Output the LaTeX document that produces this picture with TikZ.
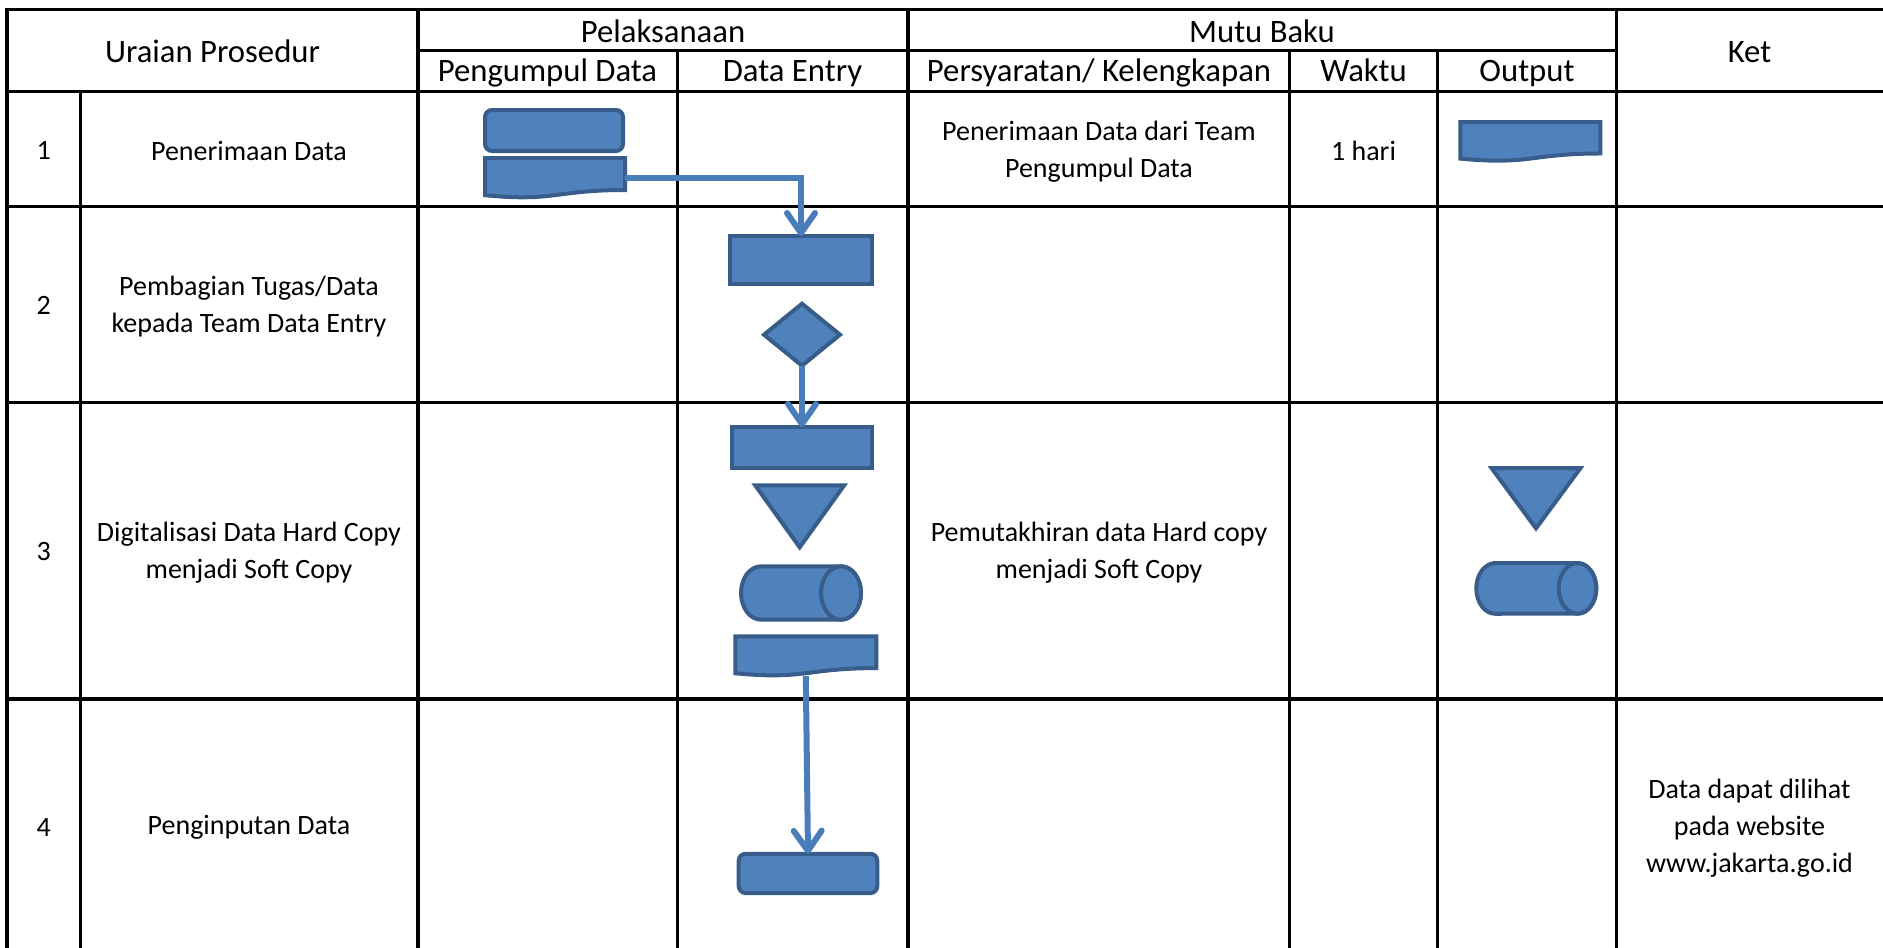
\documentclass[tikz,border=0pt]{standalone}
\usepackage{fontspec}
\setmainfont{Carlito}
\usetikzlibrary{arrows.meta,calc,shapes.geometric}
\definecolor{shapefill}{HTML}{4F81BD}
\definecolor{shapeline}{HTML}{385D8A}
\definecolor{flowline}{HTML}{4A7EBB}
% flowchart symbols drawn over an empty node
\newcommand\docshape[1]{\draw[box] (#1.north west) -- (#1.north east) -- ($(#1.north east)!0.8!(#1.south east)$) .. controls ($(#1.north)!0.8!(#1.south)$) and ($(#1.north)!1.1!(#1.south)$) .. ($(#1.north west)!0.93!(#1.south west)$) -- cycle;}
\newcommand\mergeshape[1]{\draw[box] (#1.north west) -- (#1.north east) -- (#1.south) -- cycle;}
\newcommand\diskshape[3]{\draw[box] ($(#1.north west)+(#2,0)$) -- ($(#1.north east)-(#2,0)$) arc[start angle=-90,end angle=90,x radius=#2,y radius=#3] -- ($(#1.south west)+(#2,0)$) arc[start angle=90,end angle=270,x radius=#2,y radius=#3] -- cycle;
\draw[box] ($(#1.east)-(#2,0)$) ellipse[x radius=#2,y radius=#3];}
\begin{document}
\begin{tikzpicture}[x=1pt,y=-1pt,
  grid/.style={line width=3.3pt},
  box/.style={draw=shapeline,fill=shapefill,line width=4pt,inner sep=0pt,outer sep=0pt},
  frame/.style={inner sep=0pt,outer sep=0pt},
  flow/.style={draw=flowline,line width=6pt,-{Straight Barb[round,length=20pt,width=28pt]}},
  txt/.style={font=\fontsize{28}{37}\selectfont,align=center},
  head/.style={font=\fontsize{32.7}{40}\selectfont,anchor=base}]
\useasboundingbox (0,0) rectangle (1883,948);
% table
\draw[grid] (1883,9.6) -| (7,948);
\foreach \y in {91.3,206.6,402.3,699} \draw[grid] (7,\y) -- (1883,\y);
\draw[grid] (418,50.4) -- (1616.4,50.4);
\foreach \x in {418,907.9,1616.4} \draw[grid] (\x,9.6) -- (\x,948);
\foreach \x in {677.3,1289.8,1437.5} \draw[grid] (\x,50.4) -- (\x,948);
\draw[grid] (80.5,91.3) -- (80.5,948);
% header
\node[head] (uraian) at (212.5,62.5) {Uraian Prosedur};
\node[head] (laksana) at (663,42.7) {Pelaksanaan};
\node[head] (mutu) at (1262,42.7) {Mutu Baku};
\node[head] (ket) at (1749.5,62.5) {Ket};
\node[head] (kumpulh) at (547.5,81.5) {Pengumpul Data};
\node[head] (entryh) at (792.5,81.5) {Data Entry};
\node[head] (syarath) at (1099,81.5) {Persyaratan/ Kelengkapan};
\node[head] (waktuh) at (1363.5,81.5) {Waktu};
\node[head] (outputh) at (1527,81.5) {Output};
% rows
\foreach \n/\y in {1/150.5,2/305.7,3/551.9,4/827.2} \node[txt] (no\n) at (43.7,\y) {\n};
\node[txt] (u1) at (249,150.5) {Penerimaan Data};
\node[txt] (u2) at (249,306.9) {Pembagian Tugas/Data\\kepada Team Data Entry};
\node[txt] (u3) at (249,553.1) {Digitalisasi Data Hard Copy\\menjadi Soft Copy};
\node[txt] (u4) at (249,827.2) {Penginputan Data};
\node[txt] (s1) at (1099,151.7) {Penerimaan Data dari Team\\Pengumpul Data};
\node[txt] (s3) at (1099,553.1) {Pemutakhiran data Hard copy\\menjadi Soft Copy};
\node[txt] (w1) at (1363.5,150.5) {1 hari};
\node[txt] (k4) at (1749.5,828.4) {Data dapat dilihat\\pada website\\www.jakarta.go.id};
% symbols
\node[box,rounded corners=7pt,minimum width=138pt,minimum height=41pt] (kumpul) at (554,130.5) {};
\node[frame,minimum width=140pt,minimum height=40pt] (kumpuldoc) at (555,178) {};
\docshape{kumpuldoc}
\node[frame,minimum width=140pt,minimum height=39.3pt] (outdoc) at (1530.3,141.7) {};
\docshape{outdoc}
\node[box,minimum width=142pt,minimum height=47.7pt] (bagi) at (801,259.9) {};
\node[box,diamond,minimum width=76pt,minimum height=62pt] (cek) at (802,334.7) {};
\node[box,minimum width=140pt,minimum height=41pt] (digital) at (802,447.5) {};
\node[frame,minimum width=89pt,minimum height=62pt] (simpan) at (799.7,516.3) {};
\mergeshape{simpan}
\node[frame,minimum width=120pt,minimum height=53.4pt] (disk) at (801,593) {};
\diskshape{disk}{20}{26.7}
\node[frame,minimum width=141pt,minimum height=39.7pt] (softdoc) at (805.8,656.2) {};
\docshape{softdoc}
\node[box,rounded corners=7pt,minimum width=138.6pt,minimum height=39.3pt] (input) at (808,873.4) {};
\node[frame,minimum width=89pt,minimum height=60.3pt] (outsimpan) at (1536,498.2) {};
\mergeshape{outsimpan}
\node[frame,minimum width=120pt,minimum height=50.7pt] (outdisk) at (1536.3,588.4) {};
\diskshape{outdisk}{18.8}{25.3}
% connectors
\draw[flow] (kumpuldoc.east) -| (bagi.north);
\draw[flow] (cek.south) -- (digital.north);
\draw[flow] (softdoc.south) -- (input.north);
\end{tikzpicture}
\end{document}
